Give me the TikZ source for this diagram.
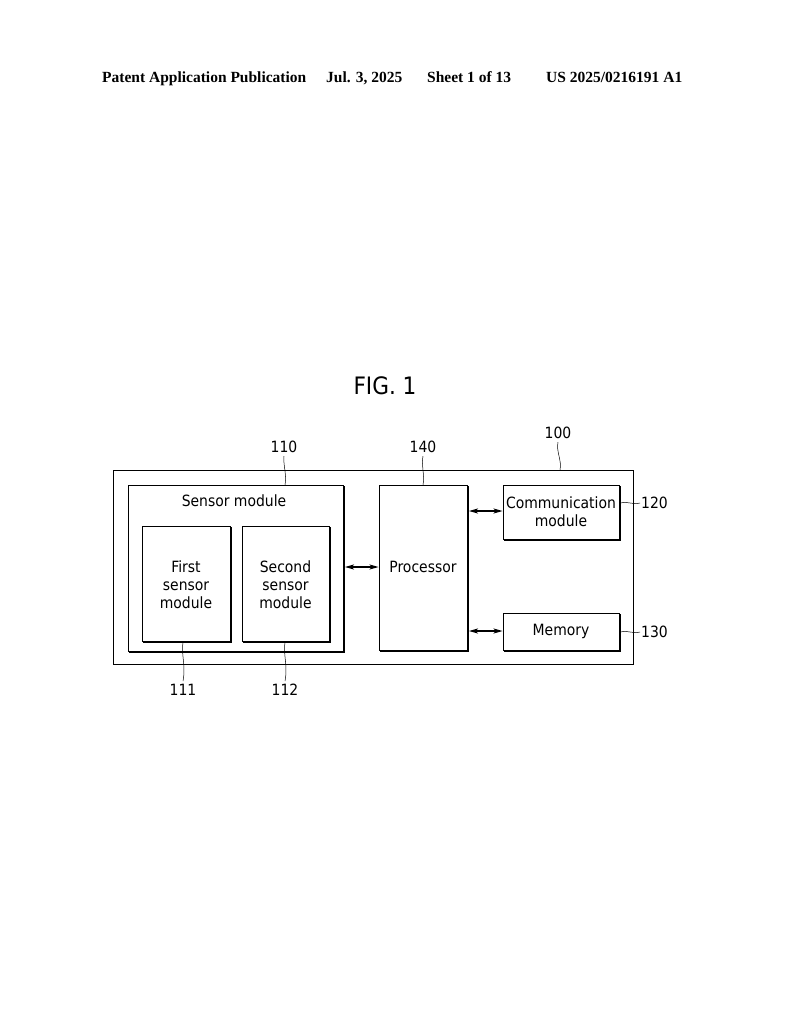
\documentclass[tikz,border=0pt]{standalone}
\usepackage{fontspec}
\setmainfont{DejaVu Sans Condensed}
\newfontfamily\hdrfont{Liberation Serif}
\usetikzlibrary{arrows.meta}
\tikzset{
  blk/.style={draw, line width=0.9pt, inner sep=0pt, fill=white},
  lbl/.style={font=\fontsize{15.5}{18}\selectfont, align=center, inner sep=0pt},
  ref/.style={font=\fontsize{15.5}{18}\selectfont, inner sep=0pt},
  hdr/.style={font=\hdrfont\bfseries\fontsize{15.5}{18}\selectfont, inner sep=0pt, anchor=base west},
  lead/.style={line width=0.5pt},
  dar/.style={line width=1.2pt, {Stealth[length=9pt,width=5pt,inset=2pt]}-{Stealth[length=9pt,width=5pt,inset=2pt]}}
}
\newcommand{\shd}[1]{%
  \draw[line width=1.4pt] ([shift={(1pt,-1.5pt)}]#1.north east) -- ([shift={(1pt,-1pt)}]#1.south east) -- ([shift={(1.5pt,-1pt)}]#1.south west);}
\begin{document}
\begin{tikzpicture}[x=1pt,y=-1pt]
\useasboundingbox (0,0) rectangle (794,1024);
% header
\node[hdr] (h1) at (102,83) {Patent Application Publication};
\node[hdr] (h2) at (326,83) {Jul. 3, 2025};
\node[hdr] (h3) at (427,83) {Sheet 1 of 13};
\node[hdr] (h4) at (546,83) {US 2025/0216191 A1};
% title
\node[font=\fontsize{24}{28}\selectfont, inner sep=0pt] (fig) at (385,386) {FIG. 1};
% outer box
\node[blk, minimum width=520pt, minimum height=194pt] (dev) at (373,567) {};
% sensor module
\node[blk, minimum width=215pt, minimum height=166pt] (sm) at (235.5,568) {};
\shd{sm}
\node[lbl] (smt) at (234,501) {Sensor module};
\node[blk, minimum width=88pt, minimum height=115pt] (s1) at (186,583.5) {};
\shd{s1}
\node[lbl] (s1t) at (186,585) {First\\sensor\\module};
\node[blk, minimum width=87pt, minimum height=115pt] (s2) at (285.5,583.5) {};
\shd{s2}
\node[lbl] (s2t) at (285.5,585) {Second\\sensor\\module};
% processor
\node[blk, minimum width=88pt, minimum height=165pt] (proc) at (423,567.5) {};
\shd{proc}
\node[lbl] (proct) at (423,567) {Processor};
% communication
\node[blk, minimum width=116pt, minimum height=54pt] (com) at (561,512) {};
\shd{com}
\node[lbl] (comt) at (561,512) {Communication\\module};
% memory
\node[blk, minimum width=116pt, minimum height=37pt] (mem) at (561,631.5) {};
\shd{mem}
\node[lbl] (memt) at (561,631) {Memory};
% arrows
\coordinate (a1) at (sm.east |- 0,567);
\coordinate (a2) at (proc.west |- 0,567);
\draw[dar] ([xshift=1.5pt]a1) -- (a2);
\coordinate (b1) at ([xshift=1.5pt]proc.east |- 0,511);
\coordinate (b2) at (com.west |- 0,511);
\draw[dar] (b1) -- (b2);
\coordinate (c1) at ([xshift=1.5pt]proc.east |- 0,631);
\coordinate (c2) at (mem.west |- 0,631);
\draw[dar] (c1) -- (c2);
% reference numerals
\node[ref] (r110) at (284,447) {110};
\node[ref] (r140) at (423,447) {140};
\node[ref] (r100) at (558,433) {100};
\node[ref, anchor=west] (r120) at (641,503) {120};
\node[ref, anchor=west] (r130) at (641,632) {130};
\node[ref] (r111) at (183,690) {111};
\node[ref] (r112) at (285,690) {112};
% leaders
\coordinate (l110) at (285,485);
\draw[lead] ([yshift=-3pt]r110.south) .. controls (283,465) and (287,475) .. (l110);
\coordinate (l140) at (423,485);
\draw[lead] ([yshift=-3pt]r140.south) .. controls (421,465) and (425,475) .. (l140);
\coordinate (l100) at (560,470);
\draw[lead] ([yshift=-3pt]r100.south) .. controls (556,452) and (562,460) .. (l100);
\coordinate (l120) at ([xshift=1pt]com.east |- 0,503);
\draw[lead] (l120) .. controls (628,501) and (632,505) .. ([xshift=-1pt]r120.west);
\coordinate (l130) at ([xshift=1pt]mem.east |- 0,632);
\draw[lead] (l130) .. controls (628,630) and (632,634) .. ([xshift=-1pt]r130.west);
\coordinate (l111) at (183,642);
\draw[lead] (l111) .. controls (181,655) and (186,665) .. ([yshift=3pt]r111.north);
\coordinate (l112) at (285,642);
\draw[lead] (l112) .. controls (283,655) and (288,665) .. ([yshift=3pt]r112.north);
\end{tikzpicture}
\end{document}
